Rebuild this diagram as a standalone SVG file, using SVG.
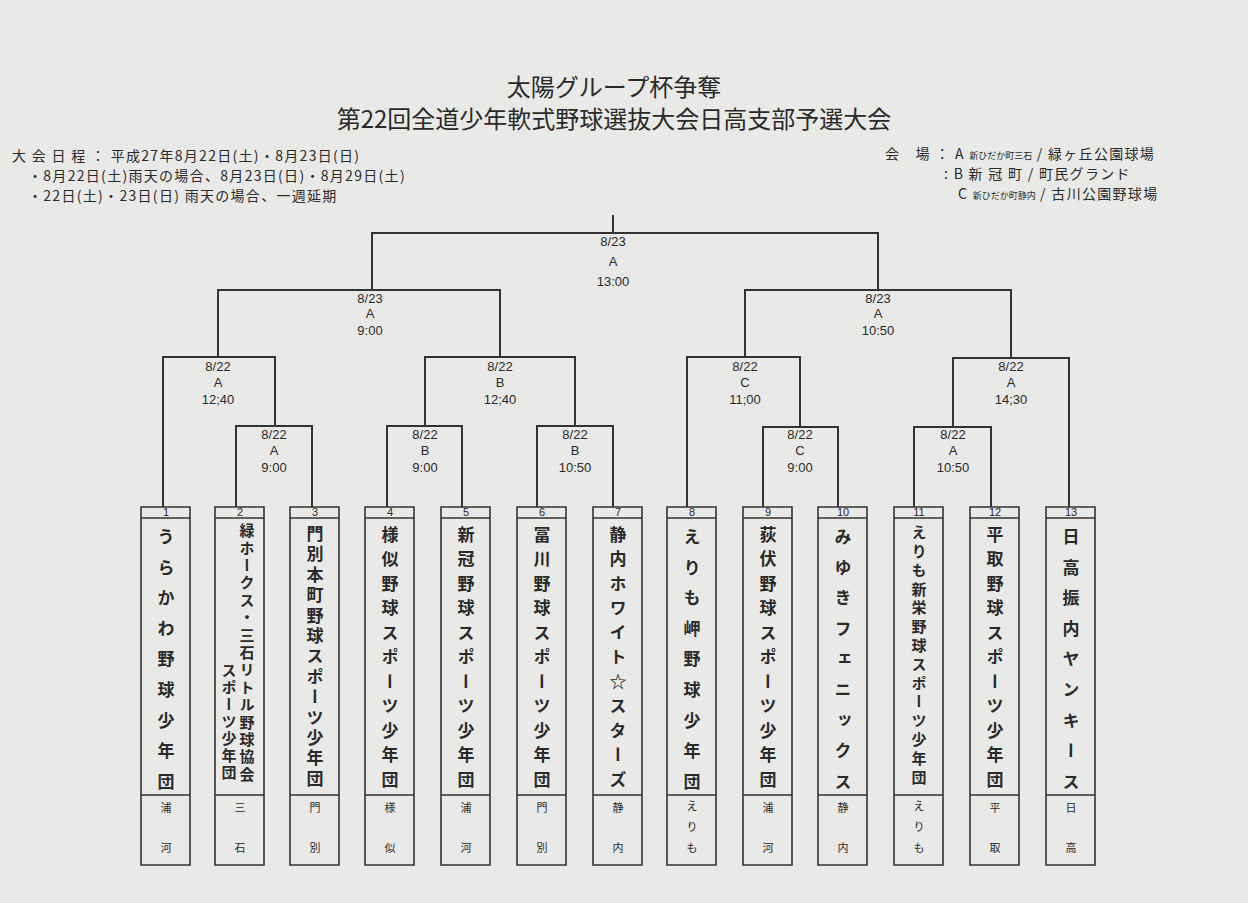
<svg xmlns="http://www.w3.org/2000/svg" width="1248" height="903" viewBox="0 0 1248 903">
<style>
text{font-family:"Noto Sans CJK JP","Liberation Sans",sans-serif;fill:#2a2a2a}
.t{font-size:24px;text-anchor:middle}
.h{font-size:14px;letter-spacing:1.3px}
.s{font-size:9px;letter-spacing:0}
.m{font-size:13px;text-anchor:middle;font-family:"Liberation Sans","Noto Sans CJK JP",sans-serif}
.n{font-size:11px;text-anchor:middle;font-family:"Liberation Sans",sans-serif}
.v{writing-mode:vertical-rl;font-size:17px;font-weight:700}
.vs{writing-mode:vertical-rl;font-size:15px;font-weight:700}
.c{font-size:11px;text-anchor:middle}
.l{fill:none;stroke:#333;stroke-width:2}
.b{fill:none;stroke:#333;stroke-width:1.6}
</style>
<rect width="1248" height="903" fill="#e9e9e7"/>
<text class="t" x="614" y="96">太陽グループ杯争奪</text>
<text class="t" x="614" y="128">第22回全道少年軟式野球選抜大会日高支部予選大会</text>
<text class="h" x="12" y="161">大 会 日 程 ： 平成27年8月22日(土)・8月23日(日)</text>
<text class="h" x="28" y="181">・8月22日(土)雨天の場合、8月23日(日)・8月29日(土)</text>
<text class="h" x="28" y="201">・22日(土)・23日(日) 雨天の場合、一週延期</text>
<text class="h" x="885" y="159">会　場 ： A <tspan class="s">新ひだか町三石</tspan> / 緑ヶ丘公園球場</text>
<text class="h" x="944" y="179">: B 新 冠 町 / 町民グランド</text>
<text class="h" x="958" y="199">C <tspan class="s">新ひだか町静内</tspan> / 古川公園野球場</text>
<g id="connectors">
<path class="l" d="M613 215V233M372 290V233H878V290"/>
<path class="l" d="M218 357V290H500V357M745 357V290H1011V358"/>
<path class="l" d="M163 507V357H275V426M236 507V426H312V507"/>
<path class="l" d="M387 507V426H462V507M425 426V357H575V426M537 507V426H613V507"/>
<path class="l" d="M687 507V357H800V427M763 507V427H838V507"/>
<path class="l" d="M914 507V427H991V507M953 427V358H1069V507"/>
</g>
<g id="labels">
<text class="m" x="613" y="246">8/23</text><text class="m" x="613" y="266">A</text><text class="m" x="613" y="286">13:00</text>
<text class="m" x="370" y="303">8/23</text><text class="m" x="370" y="318">A</text><text class="m" x="370" y="335">9:00</text>
<text class="m" x="878" y="303">8/23</text><text class="m" x="878" y="318">A</text><text class="m" x="878" y="335">10:50</text>
<text class="m" x="218" y="371">8/22</text><text class="m" x="218" y="387">A</text><text class="m" x="218" y="404">12;40</text>
<text class="m" x="500" y="371">8/22</text><text class="m" x="500" y="387">B</text><text class="m" x="500" y="404">12;40</text>
<text class="m" x="745" y="371">8/22</text><text class="m" x="745" y="387">C</text><text class="m" x="745" y="404">11;00</text>
<text class="m" x="1011" y="371">8/22</text><text class="m" x="1011" y="387">A</text><text class="m" x="1011" y="404">14;30</text>
<text class="m" x="274" y="439">8/22</text><text class="m" x="274" y="455">A</text><text class="m" x="274" y="472">9:00</text>
<text class="m" x="425" y="439">8/22</text><text class="m" x="425" y="455">B</text><text class="m" x="425" y="472">9:00</text>
<text class="m" x="575" y="439">8/22</text><text class="m" x="575" y="455">B</text><text class="m" x="575" y="472">10:50</text>
<text class="m" x="800" y="439">8/22</text><text class="m" x="800" y="455">C</text><text class="m" x="800" y="472">9:00</text>
<text class="m" x="953" y="439">8/22</text><text class="m" x="953" y="455">A</text><text class="m" x="953" y="472">10:50</text>
</g>
<g id="t1"><path class="b" d="M141 507h49v358h-49zM141 518h49M141 795h49"/><text class="n" x="166" y="516">1</text><text class="v" x="166" y="528" letter-spacing="13.6">うらかわ野球少年団</text><text class="c" x="166" y="812">浦</text><text class="c" x="166" y="852">河</text></g>
<g id="t2"><path class="b" d="M215 507h49v358h-49zM215 518h49M215 795h49"/><text class="n" x="240" y="516">2</text><text class="vs" x="247" y="523" letter-spacing="2.4">緑ホークス・三石リトル野球協会</text><text class="vs" x="229" y="663" letter-spacing="2">スポーツ少年団</text><text class="c" x="240" y="812">三</text><text class="c" x="240" y="852">石</text></g>
<g id="t3"><path class="b" d="M290 507h49v358h-49zM290 518h49M290 795h49"/><text class="n" x="315" y="516">3</text><text class="v" x="315" y="525" letter-spacing="3.4">門別本町野球スポーツ少年団</text><text class="c" x="315" y="812">門</text><text class="c" x="315" y="852">別</text></g>
<g id="t4"><path class="b" d="M365 507h49v358h-49zM365 518h49M365 795h49"/><text class="n" x="390" y="516">4</text><text class="v" x="390" y="526" letter-spacing="7.5">様似野球スポーツ少年団</text><text class="c" x="390" y="812">様</text><text class="c" x="390" y="852">似</text></g>
<g id="t5"><path class="b" d="M441 507h49v358h-49zM441 518h49M441 795h49"/><text class="n" x="466" y="516">5</text><text class="v" x="466" y="526" letter-spacing="7.5">新冠野球スポーツ少年団</text><text class="c" x="466" y="812">浦</text><text class="c" x="466" y="852">河</text></g>
<g id="t6"><path class="b" d="M517 507h49v358h-49zM517 518h49M517 795h49"/><text class="n" x="542" y="516">6</text><text class="v" x="542" y="526" letter-spacing="7.5">冨川野球スポーツ少年団</text><text class="c" x="542" y="812">門</text><text class="c" x="542" y="852">別</text></g>
<g id="t7"><path class="b" d="M593 507h49v358h-49zM593 518h49M593 795h49"/><text class="n" x="618" y="516">7</text><text class="v" x="618" y="526" letter-spacing="7.5">静内ホワイト☆スターズ</text><text class="c" x="618" y="812">静</text><text class="c" x="618" y="852">内</text></g>
<g id="t8"><path class="b" d="M667 507h49v358h-49zM667 518h49M667 795h49"/><text class="n" x="692" y="516">8</text><text class="v" x="692" y="528" letter-spacing="13.6">えりも岬野球少年団</text><text class="c" x="692" y="810">え</text><text class="c" x="692" y="831">り</text><text class="c" x="692" y="852">も</text></g>
<g id="t9"><path class="b" d="M743 507h49v358h-49zM743 518h49M743 795h49"/><text class="n" x="768" y="516">9</text><text class="v" x="768" y="526" letter-spacing="7.5">荻伏野球スポーツ少年団</text><text class="c" x="768" y="812">浦</text><text class="c" x="768" y="852">河</text></g>
<g id="t10"><path class="b" d="M818 507h49v358h-49zM818 518h49M818 795h49"/><text class="n" x="843" y="516">10</text><text class="v" x="843" y="528" letter-spacing="13.6">みゆきフェニックス</text><text class="c" x="843" y="812">静</text><text class="c" x="843" y="852">内</text></g>
<g id="t11"><path class="b" d="M894 507h49v358h-49zM894 518h49M894 795h49"/><text class="n" x="919" y="516">11</text><text class="vs" x="919" y="525" letter-spacing="3.8">えりも新栄野球スポーツ少年団</text><text class="c" x="919" y="810">え</text><text class="c" x="919" y="831">り</text><text class="c" x="919" y="852">も</text></g>
<g id="t12"><path class="b" d="M970 507h49v358h-49zM970 518h49M970 795h49"/><text class="n" x="995" y="516">12</text><text class="v" x="995" y="526" letter-spacing="7.5">平取野球スポーツ少年団</text><text class="c" x="995" y="812">平</text><text class="c" x="995" y="852">取</text></g>
<g id="t13"><path class="b" d="M1046 507h49v358h-49zM1046 518h49M1046 795h49"/><text class="n" x="1071" y="516">13</text><text class="v" x="1071" y="528" letter-spacing="13.6">日高振内ヤンキース</text><text class="c" x="1071" y="812">日</text><text class="c" x="1071" y="852">高</text></g>
</svg>
